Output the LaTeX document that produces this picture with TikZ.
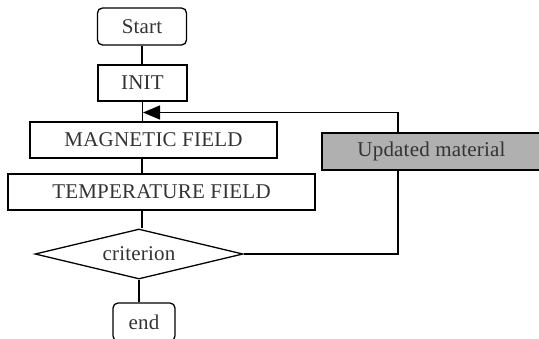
\documentclass[tikz,border=0pt]{standalone}
\usepackage{fontspec}
\setmainfont{Liberation Serif}[LetterSpace=1]
\usetikzlibrary{shapes.geometric,arrows.meta}
\definecolor{txt}{HTML}{333333}
\definecolor{boxgray}{HTML}{B0B0B0}
\tikzset{
  every node/.style={font=\fontsize{21}{23}\selectfont, text=txt, inner sep=0pt},
  term/.style={draw, line width=1.3pt, rounded corners=5pt},
  proc/.style={draw, line width=1.3pt},
  decide/.style={draw, line width=1.3pt, diamond, aspect=4},
  link/.style={line width=1.3pt},
}
\begin{document}
\begin{tikzpicture}[x=1pt,y=-1pt]
\useasboundingbox (0,0) rectangle (539,338);
% flow chart blocks
\node[term, minimum width=89pt, minimum height=37pt] (start) at (142,26.5) {Start};
\node[proc, minimum width=89pt, minimum height=36pt] (init) at (142.5,83) {INIT};
\node[proc, minimum width=247pt, minimum height=36pt] (mag) at (153.5,140) {MAGNETIC FIELD};
\node[proc, minimum width=307pt, minimum height=36pt] (temp) at (161.5,192) {TEMPERATURE FIELD};
\node[decide, minimum width=208pt, minimum height=50pt] (crit) at (139,254) {criterion};
\node[term, minimum width=62pt, minimum height=38pt] (fin) at (144,322) {end};
% main vertical connectors
\draw[link] (start.south) -- (start.south |- init.north);
\draw[link] (init.south) -- (init.south |- mag.north);
\path (mag.south) ++(-11.5,0) coordinate (ms);
\draw[link] (ms) -- (ms |- temp.north);
\path (crit.north) ++(3,0) coordinate (ct);
\draw[link] (ct |- temp.south) -- (ct |- crit.north);
\draw[link] (crit.south) -- (crit.south |- fin.north);
% feedback loop back to the magnetic field step
\coordinate (turn) at (398,254);
\coordinate (back) at (143,112.5);
\draw[link, -{Triangle[length=17pt,width=14pt]}] (crit.east) -- (turn) |- (back);
% material update box sits on top of the loop line
\node[proc, fill=boxgray, minimum width=219pt, minimum height=37pt] (upd) at (431.5,151.5) {Updated material};
\end{tikzpicture}
\end{document}
